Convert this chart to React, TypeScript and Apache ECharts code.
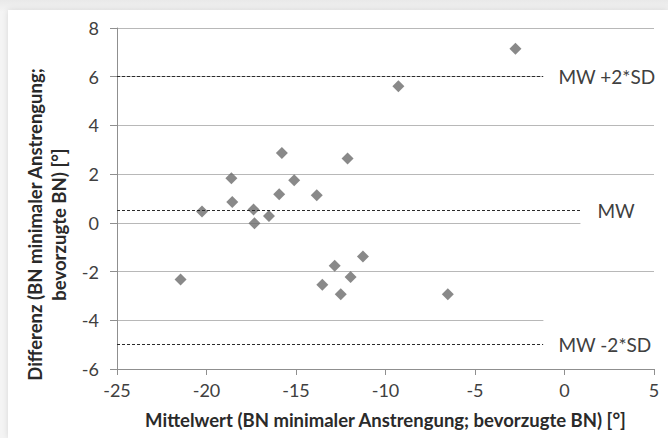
import React, { useEffect, useRef } from "react";
import * as echarts from "echarts";

// Bland-Altman points: mean (x) and difference (y), in degrees
const meanValues = [
  -2.74, -9.28, -15.79, -12.12, -18.61, -15.10, -15.94, -13.84, -18.56, -20.25,
  -17.37, -16.51, -17.32, -11.26, -12.84, -11.95, -21.45, -13.53, -12.50, -6.52,
];
const diffValues = [
  7.15, 5.61, 2.87, 2.64, 1.83, 1.75, 1.17, 1.13, 0.86, 0.47,
  0.55, 0.28, -0.02, -1.38, -1.76, -2.22, -2.33, -2.54, -2.93, -2.93,
];

// Reference lines
const meanDiff = 0.5;
const upperLimit = 6;
const lowerLimit = -5;
const refLabels = ["MW +2*SD", "MW", "MW -2*SD"];
// x value where each dashed reference line stops (label boxes start there)
const limitLineEnd = -1.18;
const meanLineEnd = 0.89;

// Axes
const xMin = -25;
const xMax = 5;
const xStep = 5;
const yMin = -6;
const yMax = 8;
const yStep = 2;

const xTitle = "Mittelwert (BN minimaler Anstrengung; bevorzugte BN) [°]";
const yTitle = "Differenz (BN minimaler Anstrengung;\nbevorzugte BN) [°]";

const FONT = "Lato, 'Open Sans', sans-serif";

export default function App() {
  const ref = useRef<HTMLDivElement>(null);

  useEffect(() => {
    if (!ref.current) return;
    const chart = echarts.init(ref.current, undefined, { renderer: "svg" });
    const points = meanValues.map((x, i) => [x, diffValues[i]]);

    const labelBase = {
      show: true,
      position: "end",
      distance: 0,
      color: "#404040",
      fontFamily: FONT,
      fontSize: 19,
      backgroundColor: "#ffffff",
    };

    chart.setOption({
      animation: false,
      backgroundColor: "transparent",
      grid: { left: 117, right: 14, top: 28, bottom: 69, containLabel: false },
      xAxis: {
        type: "value",
        min: xMin,
        max: xMax,
        interval: xStep,
        z: 10,
        name: xTitle,
        nameLocation: "middle",
        nameGap: 41,
        nameTextStyle: { fontFamily: FONT, fontSize: 18.5, fontWeight: "bold", color: "#2a2a2a" },
        axisLine: { show: true, onZero: false, lineStyle: { color: "#8f8f8f", width: 1 } },
        axisTick: { show: true, length: 6, lineStyle: { color: "#8f8f8f" } },
        axisLabel: { fontFamily: FONT, fontSize: 18, color: "#404040", margin: 12 },
        splitLine: { show: false },
      },
      yAxis: {
        type: "value",
        min: yMin,
        max: yMax,
        interval: yStep,
        z: 0,
        name: yTitle,
        nameLocation: "middle",
        nameRotate: 90,
        nameGap: 42,
        nameTextStyle: {
          fontFamily: FONT,
          fontSize: 18.5,
          fontWeight: "bold",
          color: "#2a2a2a",
          lineHeight: 24,
          padding: [0, 52, 0, 0],
        },
        axisLine: { show: true, onZero: false, lineStyle: { color: "#8f8f8f", width: 1 } },
        axisTick: { show: true, length: 7, lineStyle: { color: "#8f8f8f" } },
        axisLabel: { fontFamily: FONT, fontSize: 18, color: "#404040", margin: 18 },
        splitLine: { show: true, lineStyle: { color: "#b8b8b8", width: 1 } },
      },
      series: [
        {
          type: "scatter",
          data: points,
          symbol: "diamond",
          symbolSize: 12,
          itemStyle: { color: "#6b6b6b" },
          markLine: {
            silent: true,
            symbol: ["none", "none"],
            lineStyle: { color: "#2b2b2b", type: [3, 2], width: 1 },
            data: [
              [
                {
                  coord: [xMin, upperLimit],
                  label: { ...labelBase, formatter: refLabels[0], padding: [6, 12, 6, 15] },
                },
                { coord: [limitLineEnd, upperLimit] },
              ],
              [
                {
                  coord: [xMin, meanDiff],
                  label: { ...labelBase, formatter: refLabels[1], padding: [5, 40, 13, 17] },
                },
                { coord: [meanLineEnd, meanDiff] },
              ],
              [
                {
                  coord: [xMin, lowerLimit],
                  label: { ...labelBase, formatter: refLabels[2], padding: [20, 12, 20, 15] },
                },
                { coord: [limitLineEnd, lowerLimit] },
              ],
            ],
          },
        },
      ],
    });

    return () => chart.dispose();
  }, []);

  return (
    <div
      style={{
        position: "fixed",
        left: 0,
        top: 0,
        width: 668,
        height: 438,
        background: "linear-gradient(#e9e9e9, #f4f4f4 12px)",
        overflow: "hidden",
      }}
    >
      <div
        style={{
          position: "absolute",
          left: 8,
          top: 10,
          right: 0,
          bottom: 0,
          background: "#ffffff",
          boxShadow: "0 0 6px rgba(0,0,0,0.12)",
        }}
      />
      <div ref={ref} style={{ position: "absolute", left: 0, top: 0, width: 668, height: 438 }} />
    </div>
  );
}
